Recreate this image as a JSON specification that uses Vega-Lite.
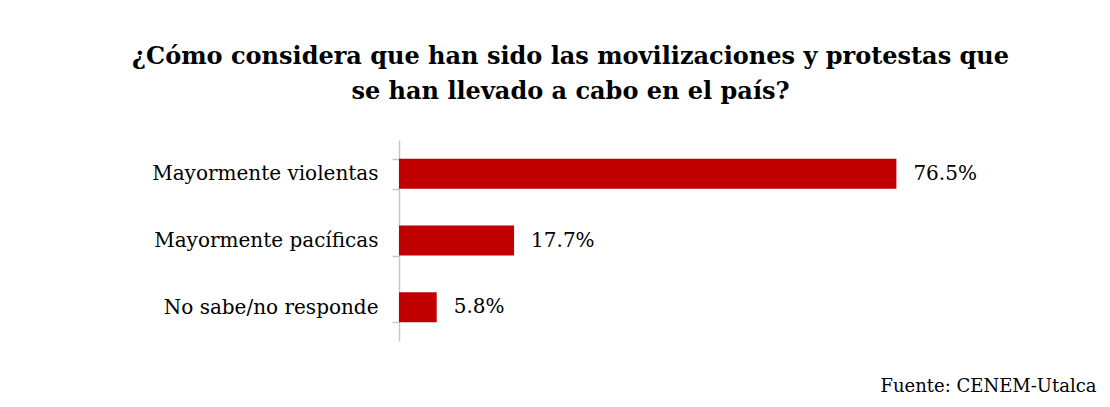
{
  "$schema": "https://vega.github.io/schema/vega-lite/v6.json",
  "autosize": {"type": "none"},
  "padding": {"left": 399, "top": 140, "right": 14, "bottom": 66},
  "width": 697,
  "height": 201,
  "background": "white",
  "config": {"view": {"stroke": null}, "font": "DejaVu Serif"},
  "title": {
    "text": ["¿Cómo considera que han sido las movilizaciones y protestas que", "se han llevado a cabo en el país?"],
    "anchor": "middle",
    "frame": "group",
    "dx": -177,
    "offset": 26,
    "font": "DejaVu Serif",
    "fontSize": 24,
    "fontWeight": "bold",
    "lineHeight": 35,
    "color": "#000000"
  },
  "data": {
    "values": [
      {"respuesta": "Mayormente violentas", "pct": 0.765},
      {"respuesta": "Mayormente pacíficas", "pct": 0.177},
      {"respuesta": "No sabe/no responde", "pct": 0.058}
    ]
  },
  "encoding": {
    "y": {
      "field": "respuesta",
      "type": "nominal",
      "sort": null,
      "scale": {"paddingInner": 0.55, "paddingOuter": 0.28},
      "axis": {
        "title": null,
        "tickBand": "extent",
        "domainColor": "#c8c8c8",
        "domainWidth": 1.5,
        "tickColor": "#c8c8c8",
        "tickWidth": 1.5,
        "tickSize": 7,
        "labelPadding": 14,
        "labelLimit": 400,
        "labelFont": "DejaVu Serif",
        "labelFontSize": 20,
        "labelColor": "#000000"
      }
    },
    "x": {
      "field": "pct",
      "type": "quantitative",
      "scale": {"domain": [0, 1.072], "nice": false},
      "axis": {
        "title": "Fuente: CENEM-Utalca",
        "titleAnchor": "end",
        "titleFont": "DejaVu Serif",
        "titleFontSize": 18,
        "titleFontWeight": "normal",
        "titleColor": "#000000",
        "titlePadding": 36,
        "labels": false,
        "ticks": false,
        "domain": false,
        "grid": false
      }
    }
  },
  "layer": [
    {"mark": {"type": "bar", "color": "#C00000"}},
    {
      "mark": {"type": "text", "align": "left", "baseline": "middle", "dx": 17, "font": "DejaVu Serif", "fontSize": 20, "color": "#000000"},
      "encoding": {"text": {"field": "pct", "type": "quantitative", "format": ".1%"}}
    }
  ]
}
